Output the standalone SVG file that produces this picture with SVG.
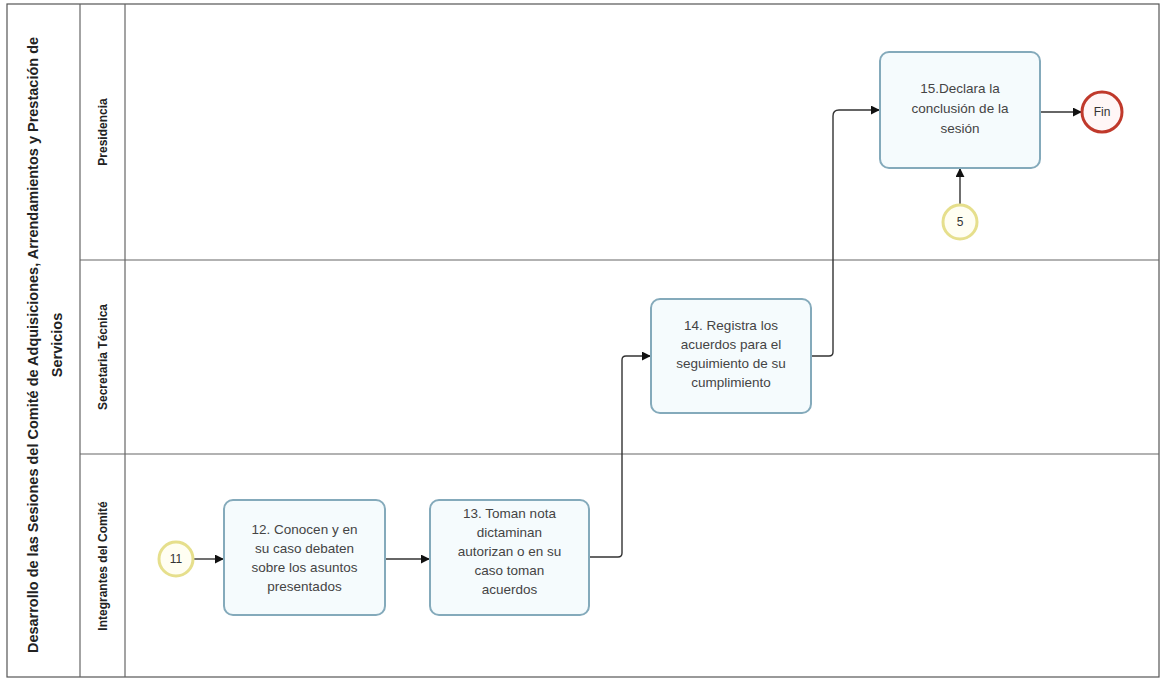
<svg xmlns="http://www.w3.org/2000/svg" width="1164" height="681" viewBox="0 0 1164 681">
<defs>
<style>
.pool{fill:#fff;stroke:#555;stroke-width:1.2}
.ln{stroke:#666;stroke-width:1.2;fill:none}
.title{font-family:"Liberation Sans",Arial,sans-serif;font-size:14.5px;font-weight:bold;fill:#222;text-anchor:middle}
.lane{font-family:"Liberation Sans",Arial,sans-serif;font-size:12px;font-weight:bold;fill:#222;text-anchor:middle}
.task{fill:#f5fbfd;stroke:#84aabb;stroke-width:2}
.tt{font-family:"Liberation Sans",Arial,sans-serif;font-size:13.5px;fill:#444;text-anchor:middle}
.ev{fill:#fffef2;stroke:#e6df8c;stroke-width:3}
.end{fill:#fff6f6;stroke:#c0392b;stroke-width:3}
.et{font-family:"Liberation Sans",Arial,sans-serif;font-size:12px;fill:#333;text-anchor:middle}
.cn{stroke:#333;stroke-width:1.4;fill:none;marker-end:url(#arr)}
</style>
<marker id="arr" viewBox="0 0 10 10" refX="9" refY="5" markerWidth="9" markerHeight="9" markerUnits="userSpaceOnUse" orient="auto">
<path d="M0,0 L10,5 L0,10 z" fill="#111"/>
</marker>
</defs>
<g id="pool">
<rect class="pool" x="7" y="4" width="1152" height="673"/>
<line class="ln" x1="80" y1="4" x2="80" y2="677"/>
<line class="ln" x1="125" y1="4" x2="125" y2="677"/>
<line class="ln" x1="80" y1="260" x2="1159" y2="260"/>
<line class="ln" x1="80" y1="454" x2="1159" y2="454"/>
<text class="title" transform="translate(38,345) rotate(-90)"><tspan x="0" y="0">Desarrollo de las Sesiones del Comité de Adquisiciones, Arrendamientos y Prestación de</tspan><tspan x="0" y="24">Servicios</tspan></text>
</g>
<g id="lane-presidencia"><text class="lane" transform="translate(107,132) rotate(-90)">Presidencia</text></g>
<g id="lane-secretaria"><text class="lane" transform="translate(107,357) rotate(-90)">Secretaria Técnica</text></g>
<g id="lane-integrantes"><text class="lane" transform="translate(107,566) rotate(-90)">Integrantes del Comité</text></g>
<g id="connectors">
<path class="cn" d="M194,559 L223,559"/>
<path class="cn" d="M385,559 L429,559"/>
<path class="cn" d="M589,557 L618,557 Q622,557 622,553 L622,360 Q622,356 626,356 L650,356"/>
<path class="cn" d="M811,356 L829,356 Q833,356 833,352 L833,116 Q833,110 839,110 L879,110"/>
<path class="cn" d="M1040,112 L1081,112"/>
<path class="cn" d="M960,205 L960,169"/>
</g>
<g id="start-11"><circle class="ev" cx="176" cy="559" r="17"/><text class="et" x="176" y="563">11</text></g>
<g id="task-12"><rect class="task" x="224" y="500" width="161" height="115" rx="9"/>
<text class="tt"><tspan x="304.5" y="534">12. Conocen y en</tspan><tspan x="304.5" y="553">su caso debaten</tspan><tspan x="304.5" y="572">sobre los asuntos</tspan><tspan x="304.5" y="591">presentados</tspan></text></g>
<g id="task-13"><rect class="task" x="430" y="500" width="159" height="115" rx="9"/>
<text class="tt"><tspan x="509.5" y="518">13. Toman nota</tspan><tspan x="509.5" y="537">dictaminan</tspan><tspan x="509.5" y="556">autorizan o en su</tspan><tspan x="509.5" y="575">caso toman</tspan><tspan x="509.5" y="594">acuerdos</tspan></text></g>
<g id="task-14"><rect class="task" x="651" y="299" width="160" height="114" rx="9"/>
<text class="tt"><tspan x="731" y="330">14. Registra los</tspan><tspan x="731" y="349">acuerdos para el</tspan><tspan x="731" y="368">seguimiento de su</tspan><tspan x="731" y="387">cumplimiento</tspan></text></g>
<g id="task-15"><rect class="task" x="880" y="52" width="160" height="116" rx="9"/>
<text class="tt"><tspan x="960" y="93">15.Declara la</tspan><tspan x="960" y="113">conclusión de la</tspan><tspan x="960" y="133">sesión</tspan></text></g>
<g id="event-5"><circle class="ev" cx="960" cy="222" r="17"/><text class="et" x="960" y="226">5</text></g>
<g id="end-fin"><circle class="end" cx="1102" cy="112" r="20"/><text class="et" x="1102" y="116">Fin</text></g>
</svg>
